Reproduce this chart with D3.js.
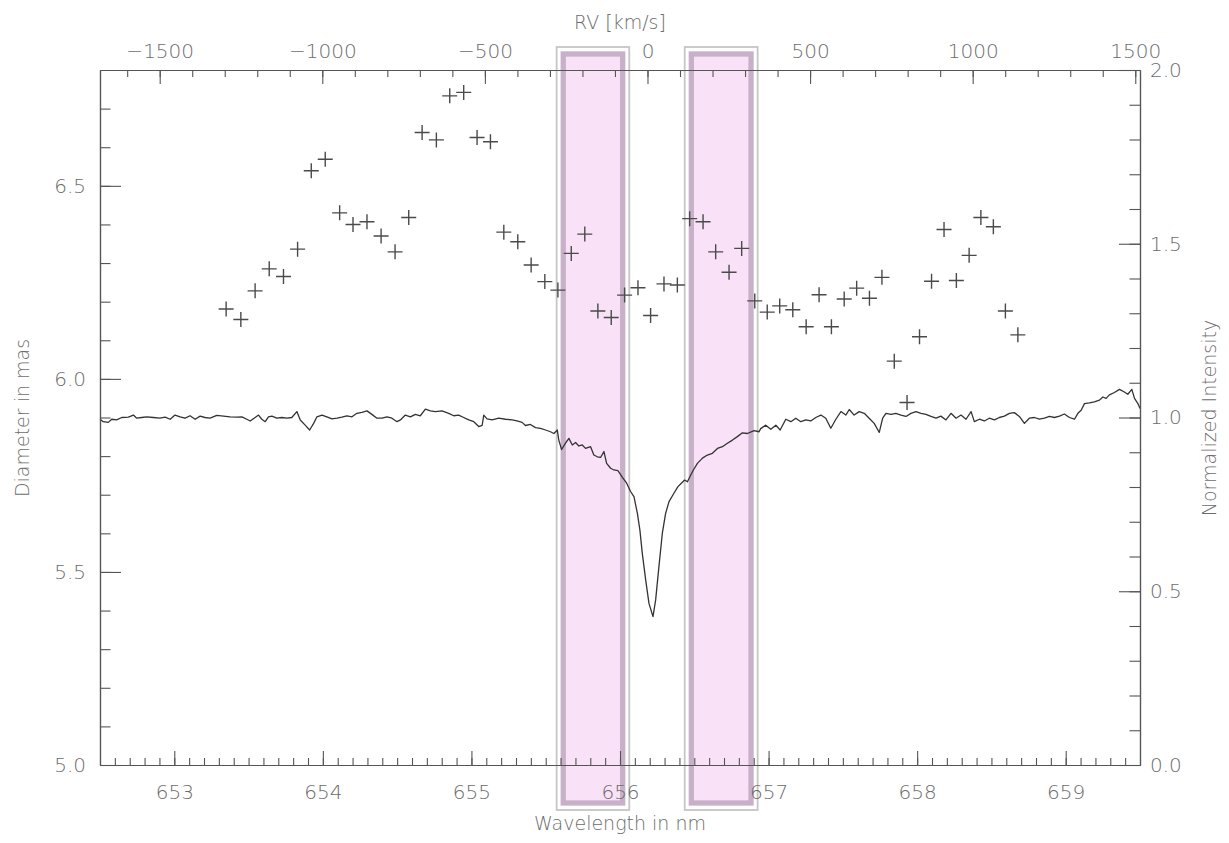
<!DOCTYPE html>
<html><head><meta charset="utf-8">
<script src="https://cdn.jsdelivr.net/npm/d3@7"></script>
<style>
body{margin:0;background:#fff;}
svg text{font-family:"DejaVu Sans",sans-serif;font-weight:200;fill:#6c6c6c;}
</style></head><body>
<svg id="c" width="1229" height="843"></svg>
<script>
// ---- data ----
const specWl = [652.500,652.522,652.556,652.579,652.612,652.646,652.691,652.725,652.747,652.781,652.814,652.859,652.904,652.938,652.972,653.005,653.039,653.073,653.106,653.140,653.174,653.207,653.241,653.286,653.331,653.376,653.421,653.455,653.488,653.511,653.544,653.567,653.589,653.612,653.634,653.657,653.690,653.724,653.758,653.791,653.825,653.848,653.881,653.911,653.938,653.960,653.994,654.027,654.061,654.095,654.128,654.162,654.196,654.229,654.263,654.297,654.330,654.364,654.398,654.432,654.465,654.499,654.522,654.555,654.589,654.623,654.656,654.690,654.724,654.757,654.802,654.847,654.881,654.914,654.948,654.982,655.016,655.049,655.072,655.083,655.105,655.139,655.184,655.229,655.274,655.307,655.341,655.364,655.397,655.431,655.465,655.499,655.532,655.555,655.578,
655.588,655.607,655.633,655.656,655.679,655.701,655.723,655.746,655.768,655.802,655.824,655.847,655.869,655.892,655.910,655.937,655.959,655.986,656.016,656.045,656.071,656.094,656.117,656.134,656.150,656.173,656.195,656.222,656.240,656.262,656.285,656.307,656.330,656.363,656.390,656.413,656.435,656.454,656.471,656.494,656.521,656.555,656.588,656.622,656.656,656.689,656.723,656.757,656.790,656.824,656.858,656.902,656.936,
656.947,656.981,657.015,657.049,657.078,657.116,657.150,657.183,657.217,657.251,657.284,657.318,657.352,657.385,657.419,657.453,657.487,657.520,657.543,657.576,657.610,657.644,657.677,657.711,657.745,657.768,657.790,657.824,657.857,657.891,657.925,657.958,657.992,658.026,658.059,658.093,658.127,658.160,658.194,658.228,658.262,658.295,658.329,658.363,658.385,658.419,658.452,658.486,658.520,658.553,658.587,658.621,658.654,658.688,658.722,658.755,658.789,658.823,658.857,658.890,658.924,658.958,658.991,659.025,659.059,659.082,659.104,659.126,659.160,659.193,659.227,659.250,659.272,659.294,659.328,659.362,659.392,659.418,659.445,659.463,659.486,659.500];
const specInt = [0.995,0.988,0.986,0.995,0.993,1.000,1.001,1.007,0.998,1.000,1.002,1.000,0.998,1.001,0.995,1.007,1.002,0.998,1.005,0.995,1.004,1.000,0.998,1.006,1.004,1.002,1.001,1.002,0.995,0.990,1.000,1.007,0.995,0.988,1.002,1.004,0.998,1.000,0.998,1.000,1.017,0.993,0.978,0.964,0.983,1.002,1.007,1.002,0.996,0.998,1.001,1.005,1.002,1.012,1.015,1.019,1.009,0.998,0.998,1.002,0.998,0.988,0.993,1.007,1.002,1.009,1.005,1.024,1.019,1.017,1.019,1.012,1.005,1.007,1.000,0.993,0.988,0.974,0.977,1.007,0.996,0.993,0.998,0.995,0.993,0.990,0.986,0.977,0.980,0.971,0.969,0.964,0.959,0.954,0.964,
0.935,0.908,0.926,0.940,0.921,0.928,0.918,0.921,0.911,0.916,0.892,0.887,0.885,0.902,0.868,0.854,0.849,0.847,0.828,0.811,0.787,0.772,0.724,0.676,0.609,0.532,0.465,0.427,0.475,0.571,0.667,0.724,0.758,0.782,0.801,0.811,0.820,0.815,0.830,0.849,0.868,0.883,0.892,0.897,0.911,0.916,0.926,0.935,0.945,0.956,0.954,0.962,0.959,
0.968,0.978,0.966,0.978,0.964,0.995,0.988,0.998,0.988,0.993,0.990,1.000,1.007,0.998,0.969,0.995,1.017,1.007,1.023,1.007,1.017,1.012,0.998,0.983,0.957,0.998,1.012,1.009,1.012,1.007,1.003,1.012,1.017,1.012,1.009,1.003,0.998,1.004,0.993,1.012,0.998,1.007,0.995,1.017,0.988,0.995,0.990,0.998,0.993,1.000,1.004,1.012,1.014,1.003,0.983,0.998,1.000,0.995,0.998,1.003,1.000,1.004,1.010,1.000,0.995,1.012,1.021,1.040,1.042,1.045,1.050,1.059,1.055,1.065,1.072,1.081,1.074,1.067,1.081,1.055,1.040,1.026];

const diamWl = [653.349,653.448,653.544,653.639,653.735,653.830,653.922,654.016,654.113,654.203,654.297,654.392,654.486,654.578,654.668,654.764,654.854,654.948,655.038,655.128,655.218,655.312,655.402,655.494,655.582,655.672,655.763,655.851,655.941,656.031,656.121,656.206,656.296,656.386,656.469,656.559,656.644,656.734,656.819,656.907,656.991,657.075,657.163,657.253,657.340,657.423,657.509,657.593,657.679,657.763,657.846,657.932,658.016,658.097,658.181,658.264,658.350,658.429,658.513,658.594,658.678];
const diamVal = [6.181,6.154,6.228,6.285,6.265,6.336,6.539,6.569,6.430,6.400,6.407,6.370,6.329,6.418,6.638,6.619,6.733,6.742,6.625,6.614,6.380,6.355,6.295,6.252,6.230,6.325,6.375,6.176,6.159,6.217,6.236,6.164,6.246,6.243,6.415,6.407,6.329,6.276,6.338,6.202,6.173,6.189,6.179,6.135,6.218,6.135,6.207,6.235,6.209,6.263,6.046,5.939,6.109,6.253,6.387,6.255,6.320,6.418,6.394,6.176,6.114];

const bandStart = [655.618, 656.480];
const bandEnd   = [656.018, 656.882];

const wlTicks = [653,654,655,656,657,658,659];
const rvTicks = [-1500,-1000,-500,0,500,1000,1500];
const diamTicks = [5.0,5.5,6.0,6.5];
const intTicks = [0.0,0.5,1.0,1.5,2.0];

// ---- layout ----
const L=100,R=1140,T=70,B=765;
const svg=d3.select('#c');
const x=d3.scaleLinear().domain([652.5,659.5]).range([L,R]);
const yL=d3.scaleLinear().domain([5.0,6.8]).range([B,T]);
const yR=d3.scaleLinear().domain([0,2]).range([B,T]);
const cLight=299792.458, lam0=656.185;
const rv=d3.scaleLinear().domain(x.domain().map(l=>cLight*(l-lam0)/lam0)).range([L,R]);

// bands
bandStart.forEach((a,i)=>{
  const x0=x(a), x1=x(bandEnd[i]);
  svg.append('rect').attr('x',x0-6.6).attr('y',47).attr('width',x1-x0+13.2).attr('height',763)
    .attr('fill','none').attr('stroke','#c6c6c6').attr('stroke-width',1.8);
  svg.append('rect').attr('x',x0).attr('y',54).attr('width',x1-x0).attr('height',749)
    .attr('fill','#f9e2f7').attr('stroke','#c9b0c9').attr('stroke-width',5.3);
});

// spectrum
const spec=specWl.map((w,i)=>[w,specInt[i]]);
svg.append('path').datum(spec)
  .attr('d',d3.line().x(d=>x(d[0])).y(d=>yR(d[1])))
  .attr('fill','none').attr('stroke','#333').attr('stroke-width',1.3).attr('stroke-linejoin','round');

// markers
svg.append('g').selectAll('path').data(diamWl.map((w,i)=>[w,diamVal[i]])).join('path')
  .attr('transform',d=>`translate(${x(d[0])},${yL(d[1])})`)
  .attr('d','M-7.5,0H7.5M0,-7.5V7.5')
  .attr('stroke','#4a4a4a').attr('stroke-width',1.4);

// axes
function style(g){
  g.select('.domain').attr('stroke','#555').attr('stroke-width',1.2);
  g.selectAll('.tick line').attr('stroke','#555').attr('stroke-width',1.1);
  g.selectAll('text').attr('font-size',20).attr('fill','#6c6c6c').attr('font-family','"DejaVu Sans",sans-serif');
}
const rng=(a,b,s)=>d3.range(Math.round(a/s),Math.round(b/s)+1).map(k=>+(k*s).toFixed(3));

svg.append('g').attr('transform',`translate(0,${B})`)
  .call(d3.axisBottom(x).tickValues(rng(652.6,659.4,0.1)).tickSize(-7).tickSizeOuter(0).tickFormat('')).call(style);
svg.append('g').attr('transform',`translate(0,${B})`)
  .call(d3.axisBottom(x).tickValues(wlTicks).tickSize(-14).tickSizeOuter(0).tickPadding(20).tickFormat(d3.format('d'))).call(style);

svg.append('g').attr('transform',`translate(0,${T})`)
  .call(d3.axisTop(rv).tickValues(rng(-1600,1500,100)).tickSize(-7).tickSizeOuter(0).tickFormat('')).call(style);
svg.append('g').attr('transform',`translate(0,${T})`)
  .call(d3.axisTop(rv).tickValues(rvTicks).tickSize(-14).tickSizeOuter(0).tickPadding(12).tickFormat(d3.format('d'))).call(style);

svg.append('g').attr('transform',`translate(${L},0)`)
  .call(d3.axisLeft(yL).tickValues(rng(5.1,6.7,0.1)).tickSize(-10.5).tickSizeOuter(0).tickFormat('')).call(style);
svg.append('g').attr('transform',`translate(${L},0)`)
  .call(d3.axisLeft(yL).tickValues(diamTicks).tickSize(-21).tickSizeOuter(0).tickPadding(14).tickFormat(d3.format('.1f'))).call(style);

svg.append('g').attr('transform',`translate(${R},0)`)
  .call(d3.axisRight(yR).tickValues(rng(0.1,1.9,0.1)).tickSize(-10.5).tickSizeOuter(0).tickFormat('')).call(style);
svg.append('g').attr('transform',`translate(${R},0)`)
  .call(d3.axisRight(yR).tickValues(intTicks).tickSize(-21).tickSizeOuter(0).tickPadding(10).tickFormat(d3.format('.1f'))).call(style);

// titles
const tt=(t,xx,yy,rot)=>svg.append('text').text(t).attr('text-anchor','middle').attr('font-size',19)
  .attr('transform',`translate(${xx},${yy})`+(rot?` rotate(${rot})`:''));
tt('RV [km/s]',620,29,0);
tt('Wavelength in nm',620,830,0);
tt('Diameter in mas',29,418,-90);
tt('Normalized Intensity',1216,418,-90);
</script></body></html>
